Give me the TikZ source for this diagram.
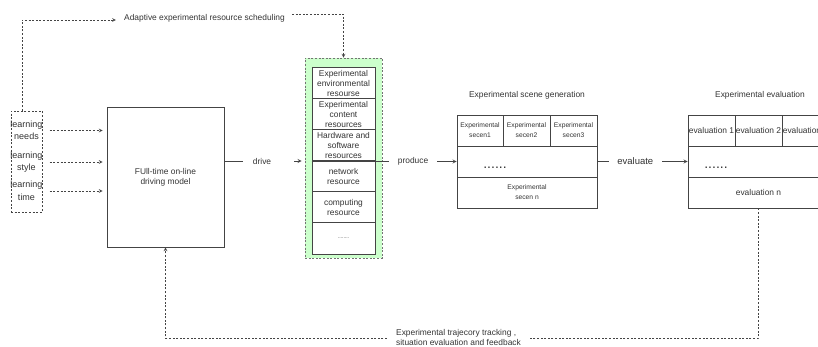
\documentclass[tikz,border=0pt]{standalone}
\usepackage{fontspec}
\setmainfont{Liberation Sans}
\usetikzlibrary{positioning, arrows}
\definecolor{txtgray}{HTML}{333333}
\definecolor{edgegray}{HTML}{444444}
\definecolor{resgreen}{HTML}{CCFFCC}
\tikzset{>=stealth,
lbl/.style={font=\fontsize{8.4}{10}\selectfont, text=txtgray, align=center, inner sep=0pt},
tiny/.style={font=\fontsize{6.7}{10}\selectfont, text=txtgray, align=center},
dotrow/.style={font=\fontsize{14}{14}\selectfont, text=txtgray, inner sep=0pt, anchor=base},
cell/.style={draw=edgegray, line width=0.8pt, inner sep=0pt, align=center},
resrow/.style={cell, fill=white, line width=1pt, minimum width=63pt, minimum height=31pt, lbl},
dashline/.style={draw=edgegray, line width=0.7pt, dash pattern=on 2pt off 1.6pt},
link/.style={draw=edgegray, line width=0.8pt},
}
\newcommand{\lrn}{\fontsize{9}{12.5}\selectfont}

\begin{document}
\begin{tikzpicture}[x=1pt, y=-1pt]
\useasboundingbox (0,0) rectangle (818,347);

    % learner side
    \node[dashline, minimum width=31pt, minimum height=101pt] (learn) at (26.5,161.5) {};
    \node[lbl, font=\lrn] (needs) at (26.5,130.5) {learning\\needs};
    \node[lbl, font=\lrn] (style) at (26.5,162) {learning\\style};
    \node[lbl, font=\lrn] (time) at (26.5,191) {learning\\time};

    \node[cell, lbl, minimum width=117pt, minimum height=140pt] (model) at (165.5,177) {FUll-time on-line\\driving model};

    % resource pool
    \node[dashline, fill=resgreen, draw=black!55, minimum width=77pt, minimum height=200pt] (pool) at (343.5,158) {};
    \node[resrow] (env) at (343.5,83.5) {Experimental\\environmental\\resourse};
    \node[resrow] (content) at (343.5,114.5) {Experimental\\content\\resources};
    \node[resrow] (hw) at (343.5,145.5) {Hardware and\\software\\resources};
    \node[resrow] (net) at (343.5,176.5) {network\\resource};
    \node[resrow] (comp) at (343.5,207.5) {computing\\resource};
    \node[resrow, font=\fontsize{5}{5}\selectfont] (more) at (343.5,238.5) {........};

    \node[lbl] (adapt) at (204.5,18) {Adaptive experimental resource scheduling};

    % scene generation
    \node[lbl] (scenetitle) at (527,95) {Experimental scene generation};
    \node[cell, tiny, minimum width=46pt, minimum height=31pt] (sc1) at (480,130.5) {Experimental\\secen1};
    \node[cell, tiny, minimum width=47pt, minimum height=31pt] (sc2) at (526.5,130.5) {Experimental\\secen2};
    \node[cell, tiny, minimum width=47pt, minimum height=31pt] (sc3) at (573.5,130.5) {Experimental\\secen3};
    \node[cell, minimum width=140pt, minimum height=31pt] (sdots) at (527,161.5) {};
    \node[dotrow] (sdotstext) at (495,168.5) {......};
    \node[cell, tiny, minimum width=140pt, minimum height=31pt] (scn) at (527,192.5) {Experimental\\secen n};

    % evaluation
    \node[lbl] (evaltitle) at (760,95) {Experimental evaluation};
    \node[cell, lbl, minimum width=47pt, minimum height=31pt] (ev1) at (711.5,130.5) {evaluation 1};
    \node[cell, lbl, minimum width=47pt, minimum height=31pt] (ev2) at (758.5,130.5) {evaluation 2};
    \node[cell, lbl, minimum width=47pt, minimum height=31pt] (ev3) at (805.5,130.5) {evaluation 3};
    \node[cell, minimum width=141pt, minimum height=31pt] (edots) at (758.5,161.5) {};
    \node[dotrow] (edotstext) at (716,168.5) {......};
    \node[cell, lbl, minimum width=141pt, minimum height=31pt] (evn) at (758.5,192.5) {evaluation n};

    \node[lbl, align=left] (track) at (458.5,337) {Experimental trajecory tracking ,\\situation evaluation and feedback};

    % connectors
    \draw[dashline, ->] ([xshift=7pt]needs.east) -- ([xshift=-4pt]model.west |- needs);
    \draw[dashline, ->] ([xshift=7pt]style.east) -- ([xshift=-4pt]model.west |- style);
    \draw[dashline, ->] ([xshift=7pt]time.east) -- ([xshift=-4pt]model.west |- time);

    \draw[dashline, ->] ([xshift=-4.5pt]learn.north) |- ([xshift=-8pt, yshift=-2pt]adapt.west);
    \draw[dashline, ->] ([xshift=7pt, yshift=4pt]adapt.east) -| (pool.north);

    \draw[link, ->] ([yshift=16pt]model.east) -- node[pos=.57, lbl, fill=white, inner xsep=10pt, text width=31pt, align=left, minimum height=10pt]{drive} ([xshift=-3pt, yshift=-3pt]pool.west);
    \draw[link, ->] (hw.south west |- sdots.west) -- node[pos=.7, lbl, fill=white, inner xsep=9pt, minimum height=10pt]{produce} (sdots.west);
    \draw[link, ->] (sdots.east) -- node[pos=.42, lbl, fill=white, inner xsep=8.5pt, minimum height=12pt, font=\fontsize{9.5}{11}\selectfont]{evaluate} (edots.west);

    \draw[dashline] (evn.south) |- ([xshift=8pt, yshift=-1pt]track.east);
    \draw[dashline, ->] ([xshift=-9pt, yshift=-1pt]track.west) -| (model.south);
\end{tikzpicture}
\end{document}
